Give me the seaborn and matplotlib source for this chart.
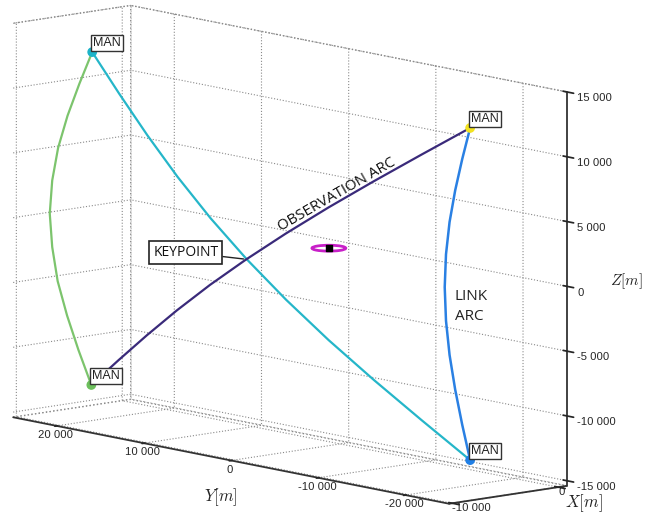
import matplotlib
matplotlib.use("Agg")
import matplotlib.pyplot as plt
import seaborn as sns
from matplotlib.patches import Ellipse
from matplotlib.ticker import FixedLocator, FuncFormatter
from mpl_toolkits.mplot3d import art3d, proj3d

sns.set_theme(style="white")
plt.rcParams["font.family"] = ["Liberation Sans", "DejaVu Sans"]
plt.rcParams["mathtext.fontset"] = "cm"
plt.rcParams["grid.color"] = "#8a8a8a"
plt.rcParams["grid.linestyle"] = ":"
plt.rcParams["grid.linewidth"] = 0.8

# Maneuver points (MAN), relative frame [m]
man_x = [-5800, -5800, -5800, -5800]
man_y = [21400, 21500, -21950, -21950]
man_z = [12700, -13000, 12630, -13000]
man_colors = ["#1bb3c9", "#6cbf5c", "#f2e21f", "#1f7fe6"]

# Drift arc between the two +Y maneuvers
green_x = [-5800, -6600, -7350, -7950, -8300, -8450, -8300, -7950, -7350, -6600, -5800]
green_y = [21400, 21900, 22350, 22700, 22950, 23050, 22950, 22750, 22400, 22000, 21500]
green_z = [12700, 10290, 7850, 5400, 2900, 350, -2240, -4890, -7570, -10280, -13000]

# Link arc between the two -Y maneuvers
link_x = [-5800, -6300, -6750, -7100, -7330, -7410, -7330, -7100, -6750, -6300, -5800]
link_y = [-21950, -21650, -21390, -21170, -21040, -20990, -21040, -21170, -21390, -21650, -21950]
link_z = [12630, 10250, 7860, 5430, 2950, 420, -2180, -4830, -7520, -10250, -13000]

# Transfer from the upper +Y maneuver to the lower -Y maneuver
cyan_x = [-5800, -6480, -7090, -7580, -7890, -8000, -7890, -7580, -7090, -6480, -5800]
cyan_y = [21400, 17470, 13490, 9450, 5300, 1020, -3370, -7890, -12520, -17220, -21950]
cyan_z = [12700, 10090, 7480, 4890, 2300, -280, -2840, -5400, -7940, -10470, -13000]

# Observation arc from the lower +Y maneuver to the upper -Y maneuver
obs_x = [-5800, -6480, -7090, -7580, -7890, -8000, -7890, -7580, -7090, -6480, -5800]
obs_y = [21500, 17560, 13570, 9520, 5360, 1080, -3330, -7870, -12500, -17210, -21950]
obs_z = [-13000, -10480, -7950, -5420, -2870, -320, 2250, 4840, 7430, 10030, 12630]

# Crossing of observation arc and transfer
key_x, key_y, key_z = -8000, 1050, -300

# Target and its local ellipse
target_x, target_y, target_z = 0, 1300, -470
target_w, target_h = 2400, 2560

x_ticks = [-10000, 0]
y_ticks = [-20000, -10000, 0, 10000, 20000]
z_ticks = [-15000, -10000, -5000, 0, 5000, 10000, 15000]

fig = plt.figure(figsize=(6.46, 5.14), dpi=100)
fig.patch.set_facecolor("white")
ax = fig.add_subplot(projection="3d", proj_type="ortho")
ax.set_position([-0.062, -0.0088, 1.0, 1.0])
ax.view_init(elev=10, azim=-131.2)
ax.set_xlim(-10300, 800)
ax.set_ylim(-25000, 25000)
ax.set_zlim(-15400, 15000)
ax.set_box_aspect((157, 665, 402), zoom=1.49)
ax.grid(True)

fmt = FuncFormatter(lambda v, p: f"{v:,.0f}".replace(",", " "))
for axis, ticks in ((ax.xaxis, x_ticks), (ax.yaxis, y_ticks), (ax.zaxis, z_ticks)):
    axis.set_major_locator(FixedLocator(ticks))
    axis.set_major_formatter(fmt)
    axis.set_pane_color((1, 1, 1, 1))
    axis.pane.set_edgecolor("#8a8a8a")
    axis.pane.set_linestyle(":")
    axis.line.set_color("#333333")
    axis.line.set_linewidth(1.3)
    axis.set_rotate_label(False)
ax.zaxis.set_ticks_position("lower")
ax.zaxis.set_label_position("lower")
ax.xaxis.set_tick_params(labelsize=8.1, colors="#262626", pad=-8)
ax.yaxis.set_tick_params(labelsize=8.1, colors="#262626", pad=-6)
ax.zaxis.set_tick_params(labelsize=8.1, colors="#262626", pad=-4.3)
plt.setp(ax.zaxis.get_majorticklabels(), ha="left")
plt.setp(ax.xaxis.get_majorticklabels(), ha="left")

ax.plot(green_x, green_y, green_z, color="#7cc46d", lw=1.6)
ax.plot(link_x, link_y, link_z, color="#2a80e3", lw=1.8)
ax.plot(cyan_x, cyan_y, cyan_z, color="#25b6c9", lw=1.6)
ax.plot(obs_x, obs_y, obs_z, color="#3a2a7a", lw=1.6)
ax.scatter(man_x, man_y, man_z, c=man_colors, s=36, depthshade=False, zorder=5)

ell = Ellipse((target_x, target_y), target_w, target_h, fill=False,
              edgecolor="#c81fc8", lw=2.0)
ax.add_patch(ell)
art3d.pathpatch_2d_to_3d(ell, z=target_z, zdir="z")
ax.scatter([target_x], [target_y], [target_z], marker="s", c="black", s=22,
           depthshade=False)

ax.set_ylabel(r"$Y[m]$", fontsize=12, labelpad=-4)
ax.text2D(0.903, 0.021, r"$X[m]$", transform=fig.transFigure, fontsize=12,
          ha="center", va="center", color="#222222")
ax.text2D(0.995, 0.453, r"$Z[m]$", transform=fig.transFigure, fontsize=11,
          ha="right", va="center", color="#222222")

fig.canvas.draw()
M = ax.get_proj()


def screen(x, y, z):
    px, py, _ = proj3d.proj_transform(x, y, z, M)
    return px, py


box = dict(boxstyle="square,pad=0.18", fc="white", ec="#333333", lw=1.0)
for x, y, z in zip(man_x, man_y, man_z):
    ax.annotate("MAN", xy=screen(x, y, z), xytext=(1, 3), textcoords="offset pixels",
                ha="left", va="bottom", fontsize=9, color="#222222", bbox=box)

ax.annotate("KEYPOINT", xy=screen(key_x, key_y, key_z), xytext=(-28, 7),
            textcoords="offset pixels", ha="right", va="center", fontsize=10,
            family="Open Sans", color="#111111",
            bbox=dict(boxstyle="square,pad=0.3", fc="white", ec="#222222", lw=1.2),
            arrowprops=dict(arrowstyle="-", color="#222222", lw=1.0, shrinkA=0, shrinkB=2))

ax.annotate("OBSERVATION ARC", xy=screen(obs_x[7], obs_y[7], obs_z[7]), xytext=(8, 13),
            textcoords="offset pixels", ha="center", va="center", rotation=30,
            fontsize=10.8, family="Open Sans", color="#111111")

ax.annotate("LINK\nARC", xy=screen(link_x[5], link_y[5], link_z[5]), xytext=(10, -19),
            textcoords="offset pixels", ha="left", va="center", fontsize=11,
            family="Open Sans", color="#222222", linespacing=1.45)

fig.savefig("out.png", dpi=100, facecolor="white")
